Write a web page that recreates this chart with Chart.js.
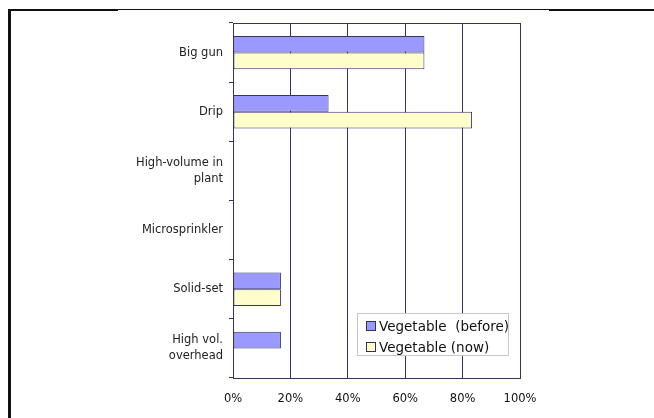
<!DOCTYPE html>
<html>
<head>
<meta charset="utf-8">
<script src="https://cdn.jsdelivr.net/npm/chart.js@4/dist/chart.umd.min.js"></script>
<style>
  html, body { margin: 0; padding: 0; background: #fff; }
  #wrap { position: relative; width: 654px; height: 418px; overflow: hidden; }
  canvas { position: absolute; left: 0; top: 0; }
  .frame { position: absolute; background: #111; }
  #legend { position: absolute; left: 357px; top: 313px; width: 150px; height: 41px;
    border: 1px solid #c8c8c8; background: #fff; font-family: "DejaVu Sans", Verdana, sans-serif;
    font-size: 13.5px; color: #111; }
  #legend .item { position: absolute; left: 8px; height: 18px; line-height: 18px; white-space: pre; }
  #legend .sw { display: inline-block; width: 8px; height: 8px; border: 1px solid #333355;
    margin-right: 3px; vertical-align: 0px; }
</style>
</head>
<body>
<div id="wrap">
  <canvas id="c" width="654" height="418"></canvas>
  <div class="frame" style="left:8px;top:9px;width:3px;height:409px;"></div>
  <div class="frame" style="left:8px;top:9px;width:110px;height:2px;"></div>
  <div class="frame" style="left:118px;top:9px;width:431px;height:1px;"></div>
  <div class="frame" style="left:549px;top:9px;width:105px;height:2px;"></div>
  <div id="legend"></div>
</div>
<script>
const categories = ['Big gun', 'Drip', ['High-volume in', 'plant'], 'Microsprinkler', 'Solid-set', ['High vol.', 'overhead']];
const seriesNames = ['Vegetable  (before)', 'Vegetable (now)'];
const beforeValues = [66.7, 33.3, 0, 0, 16.7, 16.7];
const nowValues = [66.7, 83.3, 0, 0, 16.7, 0];
const xTicks = [0, 20, 40, 60, 80, 100];
const seriesColors = ['#9999FF', '#FFFFCC'];

const gridColor = '#34345e';
const font = { family: '"DejaVu Sans", Verdana, sans-serif', size: 11.5 };

const plotBorder = {
  id: 'plotBorder',
  afterDatasetsDraw(chart) {
    const a = chart.chartArea, ctx = chart.ctx;
    ctx.save();
    ctx.strokeStyle = gridColor;
    ctx.lineWidth = 1;
    ctx.strokeRect(Math.round(a.left) + 0.5, Math.round(a.top) + 0.5, Math.round(a.right - a.left), Math.round(a.bottom - a.top));
    ctx.restore();
  }
};

const chart = new Chart(document.getElementById('c'), {
  type: 'bar',
  data: {
    labels: categories,
    datasets: [
      { label: seriesNames[0], data: beforeValues, backgroundColor: seriesColors[0] },
      { label: seriesNames[1], data: nowValues, backgroundColor: seriesColors[1] }
    ]
  },
  options: {
    indexAxis: 'y',
    responsive: false,
    animation: false,
    layout: { padding: { left: 0, right: 134, top: 23, bottom: 0 } },
    datasets: {
      bar: {
        categoryPercentage: 0.563,
        barPercentage: 1,
        borderColor: '#333366',
        borderWidth: (ctx) => (ctx.raw ? 1 : 0),
        borderSkipped: false
      }
    },
    plugins: { legend: { display: false }, tooltip: { enabled: false } },
    scales: {
      x: {
        min: 0, max: 100,
        afterBuildTicks(scale) { scale.ticks = xTicks.map(v => ({ value: v })); },
        afterFit(scale) { scale.height = 40; },
        ticks: { callback: v => v + '%', font: font, color: '#111', padding: 14, maxRotation: 0 },
        grid: { color: gridColor, lineWidth: 1, drawTicks: false },
        border: { color: gridColor }
      },
      y: {
        afterFit(scale) { scale.width = 233; },
        ticks: { font: Object.assign({ lineHeight: 1.4 }, font), color: '#222', padding: 6 },
        grid: { drawOnChartArea: false, offset: true, tickLength: 4, color: gridColor },
        border: { color: gridColor }
      }
    }
  },
  plugins: [plotBorder]
});

const legend = document.getElementById('legend');
chart.data.datasets.forEach((ds, i) => {
  const item = document.createElement('div');
  item.className = 'item';
  item.style.top = (3 + i * 21) + 'px';
  const sw = document.createElement('span');
  sw.className = 'sw';
  sw.style.background = ds.backgroundColor;
  item.appendChild(sw);
  item.appendChild(document.createTextNode(ds.label));
  legend.appendChild(item);
});
</script>
</body>
</html>
